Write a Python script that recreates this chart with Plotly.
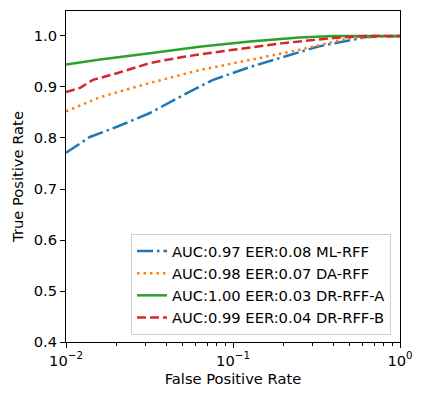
import plotly.graph_objects as go

# ROC curves (log-scale FPR vs TPR)
fpr_ml = [0.01, 0.0139, 0.0202, 0.0318, 0.053, 0.076, 0.126, 0.2, 0.32, 0.63, 1.0]
tpr_ml = [0.771, 0.802, 0.822, 0.849, 0.888, 0.914, 0.939, 0.959, 0.979, 0.998, 1.0]

fpr_da = [0.01, 0.016, 0.0318, 0.063, 0.126, 0.25, 0.5, 1.0]
tpr_da = [0.852, 0.880, 0.908, 0.933, 0.953, 0.973, 0.996, 1.0]

fpr_dra = [0.01, 0.016, 0.0318, 0.063, 0.126, 0.25, 0.4, 1.0]
tpr_dra = [0.944, 0.954, 0.966, 0.979, 0.989, 0.997, 1.0, 1.0]

fpr_drb = [0.01, 0.0121, 0.0145, 0.0202, 0.0318, 0.05, 0.1, 0.2, 0.397, 0.63, 1.0]
tpr_drb = [0.890, 0.898, 0.914, 0.927, 0.947, 0.959, 0.973, 0.986, 0.996, 1.0, 1.0]

names = ['AUC:0.97 EER:0.08 ML-RFF', 'AUC:0.98 EER:0.07 DA-RFF',
         'AUC:1.00 EER:0.03 DR-RFF-A', 'AUC:0.99 EER:0.04 DR-RFF-B']

x_ticks = [0.01, 0.1, 1]
x_ticktext = ['10<sup>\u22122</sup>', '10<sup>\u22121</sup>', '10<sup>0</sup>']
y_ticks = [0.4, 0.5, 0.6, 0.7, 0.8, 0.9, 1.0]

series = [
    (fpr_ml, tpr_ml, '#1f77b4', '16px,4px,2.5px,4px'),
    (fpr_da, tpr_da, '#ff7f0e', '2.5px,4px'),
    (fpr_dra, tpr_dra, '#2ca02c', 'solid'),
    (fpr_drb, tpr_drb, '#d62728', '9px,4px'),
]

fs = 14.7

fig = go.Figure()
for (x, y, c, d), n in zip(series, names):
    fig.add_trace(go.Scatter(x=x, y=y, mode='lines', name=n,
                             line=dict(color=c, width=2.5, dash=d)))

minor_vals = [m * 10 ** e for e in (-2, -1) for m in range(2, 10)]

# page body has an 8px margin, so the figure is 8px smaller and shifted
fig.update_layout(
    width=415, height=391,
    margin=dict(l=58, r=23, t=3, b=57),
    paper_bgcolor='white', plot_bgcolor='white',
    font=dict(family='DejaVu Sans', size=fs, color='black'),
    showlegend=True,
    legend=dict(x=0.973, y=0.021, xanchor='right', yanchor='bottom',
                bgcolor='rgba(255,255,255,0.8)', bordercolor='#d0d0d0',
                borderwidth=1, itemwidth=30, font=dict(size=fs)),
    xaxis=dict(type='log', range=[-2, 0], tickvals=x_ticks, ticktext=x_ticktext,
               ticks='outside', ticklen=5, tickcolor='black', automargin=False,
               tickfont=dict(size=fs),
               showline=True, linecolor='black', linewidth=1, mirror=True,
               showgrid=False, zeroline=False,
               title=dict(text='False Positive Rate', standoff=6, font=dict(size=fs)),
               minor=dict(tickvals=minor_vals, ticks='outside', ticklen=3,
                          tickcolor='black', showgrid=False)),
    yaxis=dict(range=[0.4, 1.049], tickvals=y_ticks, tickformat='.1f',
               ticks='outside', ticklen=5, tickcolor='black', automargin=False,
               tickfont=dict(size=fs),
               showline=True, linecolor='black', linewidth=1, mirror=True,
               showgrid=False, zeroline=False,
               title=dict(text='True Positive Rate', standoff=6, font=dict(size=fs))),
)

fig.write_html('out.html')
